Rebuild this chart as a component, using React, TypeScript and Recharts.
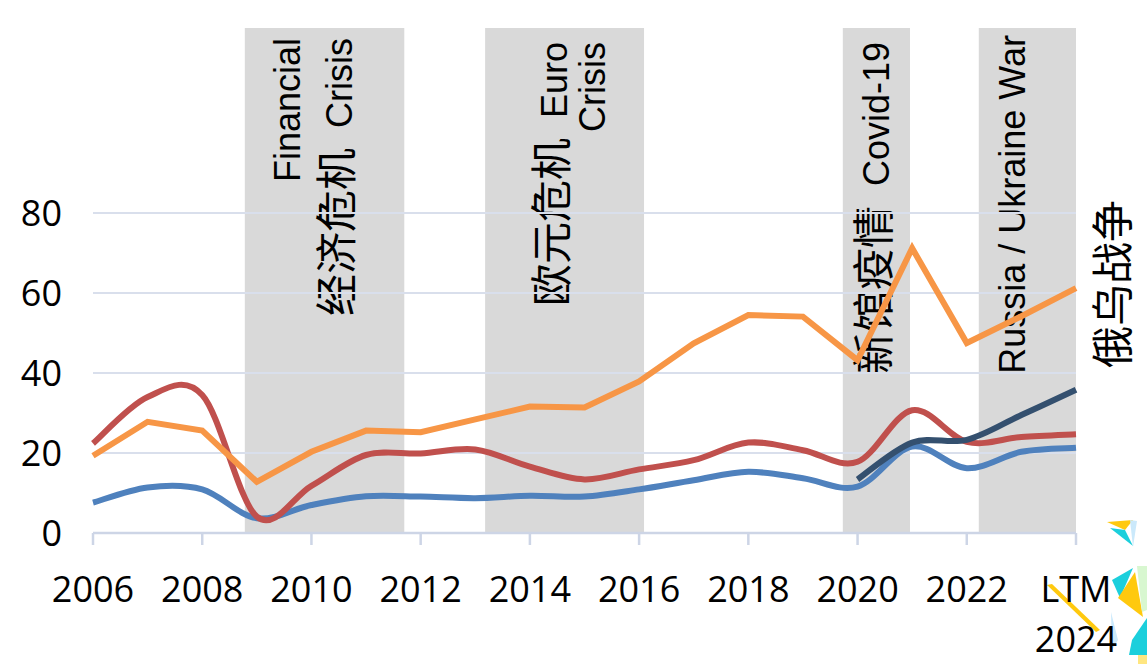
import { LineChart, Line, XAxis, YAxis, ReferenceArea, ReferenceLine } from 'recharts';

const years = [
  '2006', '2007', '2008', '2009', '2010', '2011', '2012', '2013', '2014', '2015',
  '2016', '2017', '2018', '2019', '2020', '2021', '2022', '2023', 'LTM 2024',
];

const blueSeries = [7.6, 11.4, 10.9, 3.7, 7, 9.2, 9.1, 8.7, 9.3, 9.1, 10.9, 13.2, 15.3, 13.7, 11.6, 21.6, 16.2, 20.3, 21.3];
const redSeries = [22.4, 34, 34.5, 4.1, 11.8, 19.5, 19.9, 20.9, 16.6, 13.4, 15.9, 18.2, 22.6, 20.7, 17.8, 30.7, 22.8, 24, 24.7];
const orangeSeries = [19.3, 27.8, 25.6, 12.8, 20.3, 25.6, 25.2, 28.4, 31.6, 31.4, 37.9, 47.4, 54.5, 54.1, 43.2, 71.2, 47.5, 54.2, 61.2];
const navySeries = [null, null, null, null, null, null, null, null, null, null, null, null, null, null, 13.4, 22.6, 23.3, 29.5, 35.8];

const yTicks = [0, 20, 40, 60, 80];
const xTicks = [0, 2, 4, 6, 8, 10, 12, 14, 16, 18];

// crisis periods, in category index units (0 = 2006)
const crisisBands = [
  { x1: 2.78, x2: 5.7, lines: [{ text: 'Financial', dx: 55, top: 10 }, { text: '经济危机  Crisis', dx: 107, top: 10 }] },
  { x1: 7.18, x2: 10.09, lines: [{ text: '欧元危机  Euro', dx: 82, top: 14 }, { text: 'Crisis', dx: 120, top: 14 }] },
  { x1: 13.73, x2: 14.96, lines: [{ text: '新馆疫情  Covid-19', dx: 46, top: 14 }] },
  { x1: 16.22, x2: 18, lines: [{ text: 'Russia / Ukraine War', dx: 46, top: 7 }, { text: '俄乌战争', dx: 149, top: 172 }] },
];

const data = years.map((label, i) => ({
  idx: i,
  label,
  blue: blueSeries[i],
  red: redSeries[i],
  orange: orangeSeries[i],
  navy: navySeries[i],
}));

const LATIN = '"Liberation Sans", Arial, sans-serif';
const CJK = '"Noto Sans CJK SC", sans-serif';
const AXIS_FONT = '"Open Sans", sans-serif';

// excel-like smoothing (catmull-rom through the points)
const smoothCurve = (context: any) => {
  let pts: number[][] = [];
  return {
    areaStart() {},
    areaEnd() {},
    lineStart() {
      pts = [];
    },
    point(x: number, y: number) {
      pts.push([+x, +y]);
    },
    lineEnd() {
      if (!pts.length) return;
      context.moveTo(pts[0][0], pts[0][1]);
      for (let i = 0; i < pts.length - 1; i++) {
        const p0 = pts[i - 1] || pts[i];
        const p1 = pts[i];
        const p2 = pts[i + 1];
        const p3 = pts[i + 2] || p2;
        context.bezierCurveTo(
          p1[0] + (p2[0] - p0[0]) / 6,
          p1[1] + (p2[1] - p0[1]) / 6,
          p2[0] - (p3[0] - p1[0]) / 6,
          p2[1] - (p3[1] - p1[1]) / 6,
          p2[0],
          p2[1]
        );
      }
    },
  };
};

const MixedText = ({ text }: { text: string }) => {
  const parts = text.split(/([\u4e00-\u9fff]+)/).filter((p) => p.length);
  return (
    <>
      {parts.map((p, i) =>
        /[\u4e00-\u9fff]/.test(p) ? (
          <tspan key={i} fontFamily={CJK} fontSize={42}>{p}</tspan>
        ) : (
          <tspan key={i} fontFamily={LATIN} fontSize={36}>{p}</tspan>
        )
      )}
    </>
  );
};

const BandLabel = ({ viewBox, lines }: any) => {
  const { x, y } = viewBox;
  return (
    <g>
      {lines.map((ln: any, i: number) => (
        <text
          key={i}
          transform={`translate(${x + ln.dx},${y + ln.top}) rotate(-90)`}
          textAnchor="end"
          fill="#000"
          style={{ whiteSpace: 'pre' }}
        >
          <MixedText text={ln.text} />
        </text>
      ))}
    </g>
  );
};

const XTick = ({ x, y, payload }: any) => {
  const parts = years[payload.value].split(' ');
  return (
    <text x={x} y={y} textAnchor="middle" fontFamily={AXIS_FONT} fontSize={36} fill="#000">
      {parts.map((p, i) => (
        <tspan key={i} x={x} dy={i === 0 ? 25.5 : 50}>{p}</tspan>
      ))}
    </text>
  );
};

const App = () => {
  return (
    <div style={{ position: 'absolute', left: 0, top: 0, width: 1147, height: 664, background: '#fff' }}>
      {/* stray coloured shards in the lower right corner of the source */}
      <svg width={1147} height={664} style={{ position: 'absolute', left: 0, top: 0 }}>
        <polygon points="1107,522 1133,520 1125,530" fill="#ffc90e" />
        <polygon points="1110,528 1125,530 1133,546" fill="#1ccfdc" />
        <polygon points="1130,520 1137,521 1133,547" fill="#cbe9fb" />
        <polygon points="1112,580 1133,568 1120,598" fill="#1ccfdc" />
        <polygon points="1118,598 1135,572 1143,617" fill="#ffc90e" />
        <polygon points="1137,566 1147,566 1147,610 1142,612" fill="#d8f7d0" />
        <polygon points="1047,585 1052,584 1100,630 1096,632" fill="#ffc90e" />
        <polygon points="1111,612 1118,640 1112,650" fill="#cbe9fb" />
        <polygon points="1132,640 1147,618 1147,655 1129,655" fill="#1ccfdc" />
        <polygon points="1138,655 1147,655 1147,664 1138,664" fill="#ffe680" />
      </svg>
      <div style={{ position: 'absolute', left: 0, top: 0 }}>
        <LineChart width={1147} height={664} data={data} margin={{ top: 28, right: 71, bottom: 0, left: 0 }}>
          {crisisBands.map((b, i) => (
            <ReferenceArea key={`band-${i}`} x1={b.x1} x2={b.x2} y1={0} y2={126.25} fill="#d9d9d9" fillOpacity={1} stroke="none" ifOverflow="visible" />
          ))}
          {yTicks.slice(1).map((t) => (
            <ReferenceLine key={`grid-${t}`} y={t} stroke="#d9dfec" strokeWidth={2} />
          ))}
          <XAxis
            type="number"
            dataKey="idx"
            domain={[0, 18]}
            ticks={xTicks}
            interval={0}
            height={131}
            tickSize={12}
            tickMargin={31}
            tick={<XTick />}
            axisLine={{ stroke: '#cdd5e6', strokeWidth: 2.5 }}
            tickLine={{ stroke: '#cdd5e6', strokeWidth: 2.5 }}
          />
          <YAxis
            type="number"
            domain={[0, 126.25]}
            ticks={yTicks}
            width={93}
            axisLine={false}
            tickLine={false}
            tickSize={0}
            tickMargin={31}
            tick={{ fontFamily: AXIS_FONT, fontSize: 36, fill: '#000' }}
          />
          <Line dataKey="blue" type={smoothCurve as any} stroke="#4f81bd" strokeWidth={6} dot={false} isAnimationActive={false} />
          <Line dataKey="red" type={smoothCurve as any} stroke="#c0504d" strokeWidth={6} dot={false} isAnimationActive={false} />
          <Line dataKey="orange" type="linear" stroke="#f79646" strokeWidth={6} dot={false} isAnimationActive={false} />
          <Line dataKey="navy" type={smoothCurve as any} stroke="#34506f" strokeWidth={6} dot={false} isAnimationActive={false} />
          {crisisBands.map((b, i) => (
            <ReferenceArea
              key={`label-${i}`}
              x1={b.x1}
              x2={b.x2}
              y1={0}
              y2={126.25}
              fill="none"
              stroke="none"
              ifOverflow="visible"
              label={(props: any) => <BandLabel {...props} lines={b.lines} />}
            />
          ))}
        </LineChart>
      </div>
    </div>
  );
};

export default App;
